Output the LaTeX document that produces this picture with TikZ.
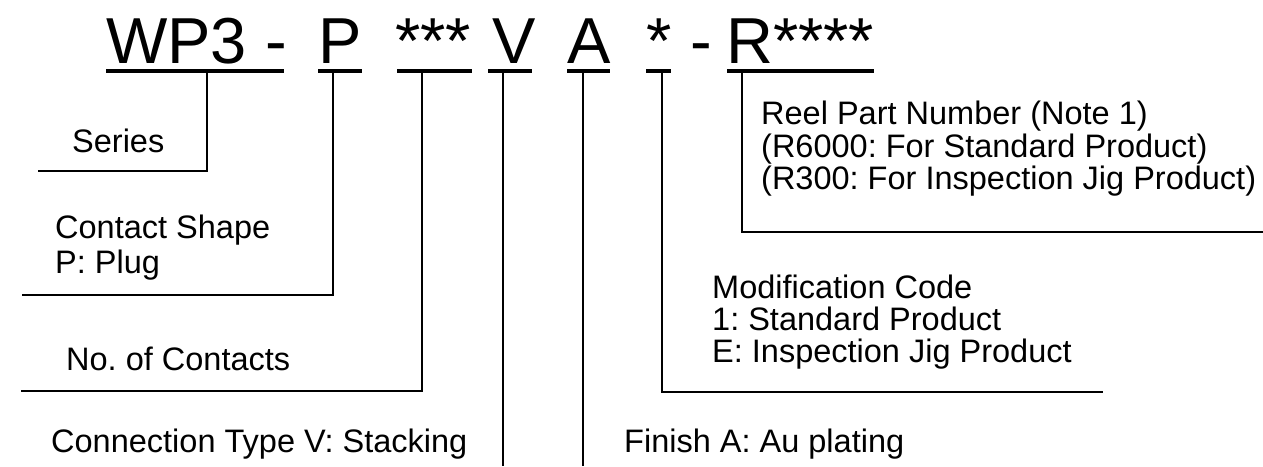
\documentclass[tikz,border=0pt]{standalone}
\usepackage{fontspec}
\setmainfont{Liberation Sans}
\frenchspacing
\begin{document}
\begin{tikzpicture}[x=1pt,y=-1pt,
  big/.style={font=\fontsize{65}{65}\selectfont, anchor=base west, inner sep=0pt},
  lbl/.style={font=\fontsize{32.5}{34}\selectfont, anchor=base west, inner sep=0pt},
  ul/.style={line width=3.8pt},
  lead/.style={line width=1.3pt}]
\useasboundingbox (0,0) rectangle (1263,466);
% big part number tokens
\node[big] (tWP)  at (106,63) {WP3 -};
\node[big] (tP)   at (318,63) {P};
\node[big] (tN)   at (395,63) {***};
\node[big] (tV)   at (492,63) {V};
\node[big] (tA)   at (567,63) {A};
\node[big] (tM)   at (646,63) {*};
\node[big] (tD)   at (690,63) {-};
\node[big] (tR)   at (726,63) {R****};
% underlines
\draw[ul] (106,71) -- (284,71);
\draw[ul] (318,71) -- (362,71);
\draw[ul] (397,71) -- (472,71);
\draw[ul] (488,71) -- (532,71);
\draw[ul] (567,71) -- (610,71);
\draw[ul] (646,71) -- (671,71);
\draw[ul] (727,71) -- (874,71);
% tap points
\coordinate (aWP) at (207,71);
\coordinate (aP)  at (333,71);
\coordinate (aN)  at (422,71);
\coordinate (aV)  at (503,71);
\coordinate (aA)  at (583,71);
\coordinate (aM)  at (662,71);
\coordinate (aR)  at (742,71);
\coordinate (eWP) at (38,171);
\coordinate (eP)  at (22,295);
\coordinate (eN)  at (21,391);
\coordinate (eV)  at (503,466);
\coordinate (eA)  at (583,466);
\coordinate (eM)  at (1103,392);
\coordinate (eR)  at (1263,232);
% leaders
\draw[lead] (aWP) |- (eWP);
\draw[lead] (aP) |- (eP);
\draw[lead] (aN) |- (eN);
\draw[lead] (aV) -- (eV);
\draw[lead] (aA) -- (eA);
\draw[lead] (aM) |- (eM);
\draw[lead] (aR) |- (eR);
% labels
\node[lbl] (lSeries) at (72,152) {Series};
\node[lbl] (lCS1) at (55,238) {Contact Shape};
\node[lbl] (lCS2) at (55,273) {P: Plug};
\node[lbl] (lNC) at (66,370) {No. of Contacts};
\node[lbl] (lCT) at (51,452) {Connection Type V: Stacking};
\node[lbl] (lFin) at (624,452) {Finish A: Au plating};
\node[lbl] (lMC1) at (712,298) {Modification Code};
\node[lbl] (lMC2) at (712,330) {1: Standard Product};
\node[lbl] (lMC3) at (712,362) {E: Inspection Jig Product};
\node[lbl] (lRP1) at (761,124) {Reel Part Number (Note 1)};
\node[lbl] (lRP2) at (761,157) {(R6000: For Standard Product)};
\node[lbl] (lRP3) at (761,189) {(R300: For Inspection Jig Product)};
\end{tikzpicture}
\end{document}
